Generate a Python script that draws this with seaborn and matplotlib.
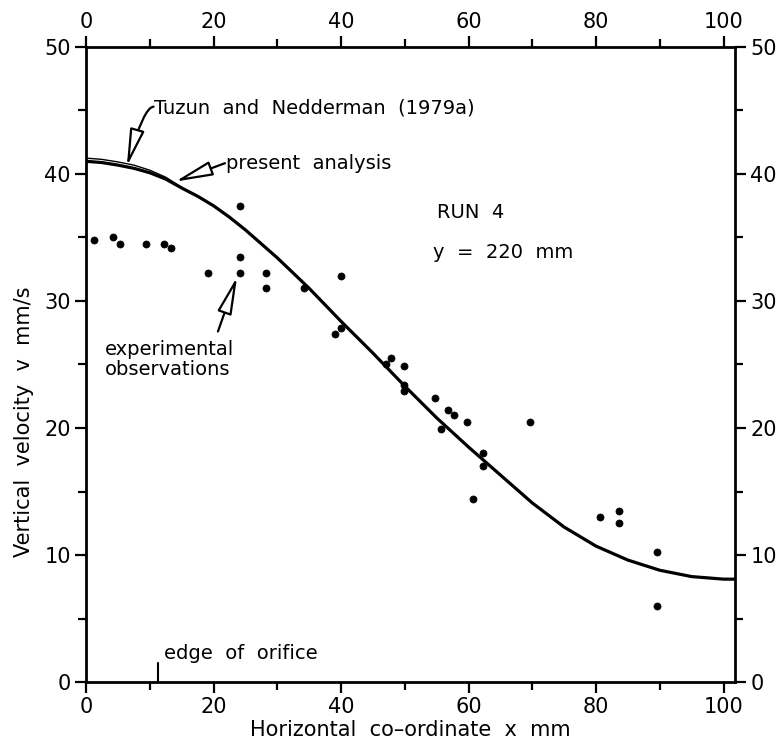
import matplotlib
matplotlib.use("Agg")
import matplotlib.pyplot as plt
import seaborn as sns
import pandas as pd
from matplotlib.ticker import MultipleLocator

# ---- data ----
obs_x = [1.3, 4.2, 5.4, 9.4, 12.3, 13.3, 24.2, 24.2, 19.2, 24.2, 28.2, 28.2, 34.2,
         40.0, 39.0, 40.0, 47.9, 47.0, 49.9, 49.9, 49.9, 54.8, 56.8, 57.8, 59.7,
         55.7, 69.6, 62.2, 62.2, 60.7, 80.7, 83.6, 83.6, 89.6, 89.6]
obs_v = [34.8, 35.0, 34.5, 34.5, 34.5, 34.2, 37.5, 33.5, 32.2, 32.2, 32.2, 31.0, 31.0,
         32.0, 27.4, 27.9, 25.5, 25.0, 24.9, 23.4, 22.9, 22.4, 21.4, 21.0, 20.5,
         19.9, 20.5, 18.0, 17.0, 14.4, 13.0, 13.5, 12.5, 10.2, 6.0]

curve_x = [0, 2.5, 5, 7.5, 10, 12.5, 15, 17.5, 20, 22.5, 25, 30, 35, 40, 45, 50, 55, 60,
           65, 70, 75, 80, 85, 90, 95, 100, 101.8]
present_v = [41.0, 40.9, 40.7, 40.45, 40.1, 39.6, 38.9, 38.25, 37.5, 36.6, 35.6, 33.4, 31.0,
             28.4, 25.9, 23.3, 20.8, 18.5, 16.3, 14.1, 12.2, 10.7, 9.6, 8.8, 8.3, 8.1, 8.1]
tuzun_v = [41.25, 41.15, 40.95, 40.7, 40.3, 39.75, 38.95, 38.25, 37.5, 36.6, 35.6, 33.4, 31.0,
           28.4, 25.9, 23.3, 20.8, 18.5, 16.3, 14.1, 12.2, 10.7, 9.6, 8.8, 8.3, 8.1, 8.1]

x_ticks = [0, 20, 40, 60, 80, 100]
y_ticks = [0, 10, 20, 30, 40, 50]
orifice_edge = 11.3

curves = pd.DataFrame({"x": curve_x, "present": present_v, "tuzun": tuzun_v})
obs = pd.DataFrame({"x": obs_x, "v": obs_v})

sns.set_style("ticks")
plt.rcParams["font.family"] = ["DejaVu Sans"]
plt.rcParams["text.color"] = "black"
plt.rcParams["axes.labelcolor"] = "black"
plt.rcParams["xtick.color"] = "black"
plt.rcParams["ytick.color"] = "black"

fig = plt.figure(figsize=(7.84, 7.47), dpi=100)
ax = fig.add_axes([0.1097, 0.0870, 0.8278, 0.8501])

sns.lineplot(data=curves, x="x", y="tuzun", ax=ax, color="black", lw=1.0)
sns.lineplot(data=curves, x="x", y="present", ax=ax, color="black", lw=2.3)
sns.scatterplot(data=obs, x="x", y="v", ax=ax, color="black", s=26, marker="o",
                edgecolor="black", linewidth=0.5, zorder=5)

ax.set_xlim(0, 101.8)
ax.set_ylim(0, 50)
ax.set_xticks(x_ticks)
ax.set_yticks(y_ticks)
ax.xaxis.set_minor_locator(MultipleLocator(10))
ax.yaxis.set_minor_locator(MultipleLocator(5))
for s in ax.spines.values():
    s.set_visible(True)
    s.set_linewidth(2.0)
    s.set_color("black")
ax.tick_params(which="both", direction="out", top=True, right=True,
               labeltop=True, labelright=True, width=1.6, color="black",
               labelcolor="black")
ax.tick_params(which="major", length=8, labelsize=15, pad=3)
ax.tick_params(which="minor", length=6)

ax.set_xlabel("Horizontal  co\u2013ordinate  x  mm", fontsize=15, labelpad=2)
ax.set_ylabel("Vertical  velocity  v  mm/s", fontsize=15)
ax.yaxis.set_label_coords(-0.08, 0.41)

# edge of orifice marker
ax.plot([orifice_edge, orifice_edge], [0, 1.5], color="black", lw=1.5)
ax.text(orifice_edge + 1.0, 2.25, "edge  of  orifice", fontsize=14, ha="left", va="center")

ax.text(55.0, 37.0, "RUN  4", fontsize=14, ha="left", va="center")
ax.text(54.5, 33.8, "y  =  220  mm", fontsize=14, ha="left", va="center")

head = "-|>,head_length=2.3,head_width=0.45"
ap = dict(arrowstyle=head, fc="white", ec="black", lw=1.6, mutation_scale=10,
          shrinkA=0, shrinkB=0)

ax.text(10.7, 45.2, "Tuzun  and  Nedderman  (1979a)", fontsize=14, ha="left", va="center")
ax.annotate("", xy=(6.4, 40.6), xytext=(10.6, 45.3),
            arrowprops=dict(ap, connectionstyle="angle3,angleA=0,angleB=74"))

ax.text(21.9, 40.8, "present  analysis", fontsize=14, ha="left", va="center")
ax.annotate("", xy=(14.0, 39.4), xytext=(21.8, 40.85), arrowprops=ap)

ax.text(3.0, 25.4, "experimental\nobservations", fontsize=14, ha="left", va="center",
        linespacing=1.1)
ax.annotate("", xy=(23.7, 31.9), xytext=(20.7, 27.6), arrowprops=ap)

fig.savefig("out.png", dpi=100)
